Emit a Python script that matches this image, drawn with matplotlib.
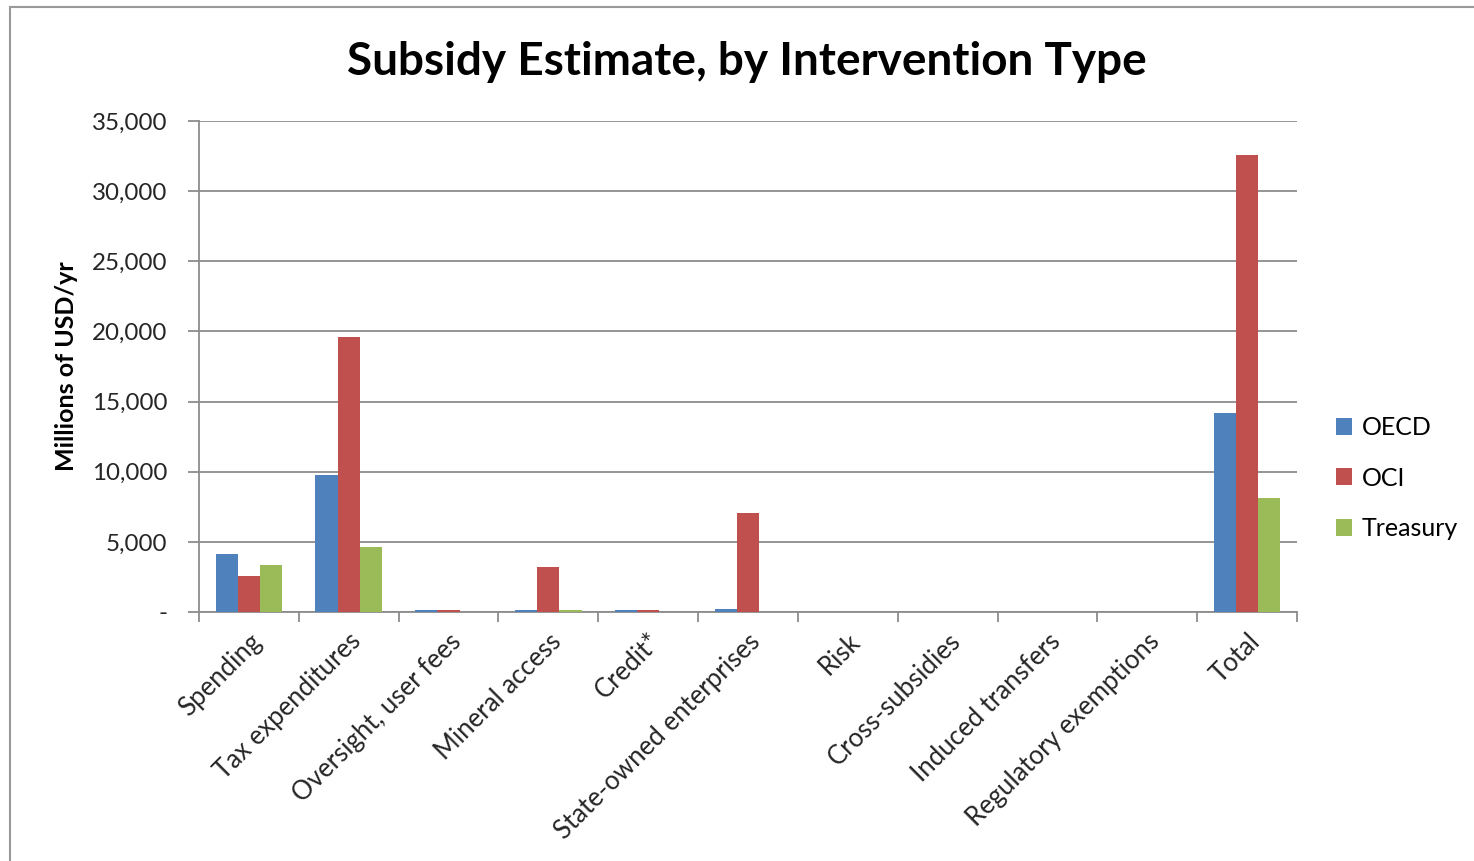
import matplotlib
matplotlib.use("Agg")
import matplotlib.pyplot as plt
import numpy as np
from matplotlib.patches import Rectangle, Patch
from matplotlib.ticker import FuncFormatter, FixedLocator

categories = ["Spending", "Tax expenditures", "Oversight, user fees", "Mineral access",
              "Credit*", "State-owned enterprises", "Risk", "Cross-subsidies",
              "Induced transfers", "Regulatory exemptions", "Total"]
oecd = [4100, 9750, 130, 130, 130, 220, 0, 0, 0, 0, 14150]
oci = [2550, 19600, 130, 3200, 130, 7050, 0, 0, 0, 0, 32600]
treasury = [3350, 4600, 0, 130, 0, 0, 0, 0, 0, 0, 8150]
series_names = ["OECD", "OCI", "Treasury"]
series_colors = ["#4F81BD", "#C0504D", "#9BBB59"]
y_ticks = [0, 5000, 10000, 15000, 20000, 25000, 30000, 35000]

plt.rcParams["font.family"] = ["Lato", "DejaVu Sans"]

fig = plt.figure(figsize=(14.74, 8.61), dpi=100)
ax = fig.add_axes([199 / 1474, 1 - 612 / 861, (1297 - 199) / 1474, (612 - 121) / 861])

x = np.arange(len(categories))
bw = 1 / 4.5
for i, (vals, name, col) in enumerate(zip([oecd, oci, treasury], series_names, series_colors)):
    ax.bar(x + (i - 1) * bw, vals, width=bw, color=col, edgecolor="none", label=name, zorder=3)

ax.set_xlim(-0.5, len(categories) - 0.5)
ax.set_ylim(0, 35000)

grid_c = "#8C8C8C"
ax.yaxis.set_major_locator(FixedLocator(y_ticks))
ax.yaxis.set_major_formatter(FuncFormatter(lambda v, p: "-" if v == 0 else f"{int(v):,}"))
ax.grid(axis="y", color=grid_c, linewidth=1.3, zorder=0)
ax.set_axisbelow(True)

ax.set_xticks(x)
ax.set_xticklabels(categories, rotation=45, ha="right", rotation_mode="anchor", fontsize=18.5)
ax.xaxis.set_minor_locator(FixedLocator(np.arange(-0.5, len(categories), 1.0)))
ax.tick_params(axis="x", which="major", length=0, pad=12)
ax.tick_params(axis="x", which="minor", length=7, width=1.3, color=grid_c)
ax.tick_params(axis="y", length=8, width=1.3, color=grid_c, labelsize=17.4, pad=15)
for lbl in ax.get_yticklabels():
    lbl.set_color("#262626")
for lbl in ax.get_xticklabels():
    lbl.set_color("#262626")

for s in ["top", "right"]:
    ax.spines[s].set_visible(False)
for s in ["left", "bottom"]:
    ax.spines[s].set_color(grid_c)
    ax.spines[s].set_linewidth(1.3)

ax.set_ylabel("Millions of USD/yr", fontsize=18, fontweight="bold", labelpad=10)

fig.text(0.507, 1 - 62 / 861, "Subsidy Estimate, by Intervention Type", ha="center", va="center",
         fontsize=33, fontweight="bold", color="black")

handles = [Patch(facecolor=c, edgecolor="none") for c in series_colors]
fig.legend(handles, series_names, loc="center left", bbox_to_anchor=(1313 / 1474, 1 - 478 / 861),
           frameon=False, fontsize=18, handlelength=0.65, handleheight=0.65, handletextpad=0.4,
           labelspacing=1.1)

fig.add_artist(Rectangle((10 / 1474, -0.1), 1.2, 1 - 7 / 861 + 0.1, transform=fig.transFigure,
                         fill=False, edgecolor="#999999", linewidth=1.5))

fig.savefig("out.png", dpi=100)
